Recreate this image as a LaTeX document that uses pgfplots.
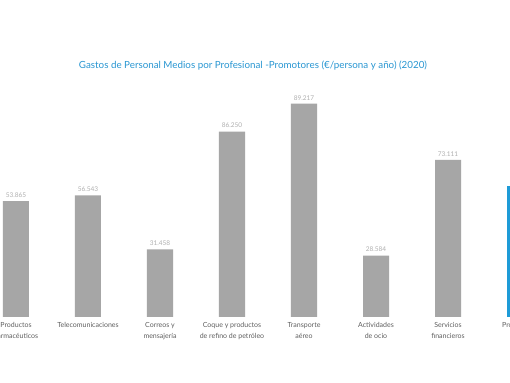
\documentclass[border=0pt]{standalone}
\usepackage{fontspec}
\setmainfont{Lato}
\usepackage{pgfplots}
\pgfplotsset{compat=1.18}
\definecolor{bargray}{RGB}{166,166,166}
\definecolor{barblue}{RGB}{30,155,215}
\definecolor{titleblue}{RGB}{40,150,210}
\definecolor{lblgray}{RGB}{175,175,175}
\definecolor{tickgray}{RGB}{95,95,95}
\begin{document}
\begin{tikzpicture}[x=1pt,y=1pt]
\useasboundingbox (0,0) rectangle (510,382);
\clip (0,0) rectangle (510,382);
\fill[white] (0,0) rectangle (510,382);
\node[font=\fontsize{9.8}{11}\selectfont, text=titleblue] at (253,316) {Gastos de Personal Medios por Profesional -Promotores (€/persona y año) (2020)};
\begin{axis}[
  at={(-56pt,65pt)}, anchor=south west,
  scale only axis, width=648pt, height=215pt,
  xmin=-1, xmax=8, ymin=0, ymax=100000,
  axis line style={draw=none}, ymajorticks=false,
  xtick={0,1,2,3,4,5,6,7}, major tick length=0pt,
  xticklabels={{Productos\\Farmacéuticos},{Telecomunicaciones},{Correos y\\mensajería},{Coque y  productos\\de refino de petróleo},{Transporte\\aéreo},{Actividades\\de ocio},{Servicios\\financieros},{Promotores}},
  xticklabel style={align=center, font=\fontsize{7}{10.5}\selectfont, text=tickgray, anchor=north, yshift=-2pt},
  ybar, bar width=26pt, bar shift=0pt,
  clip=false,
  nodes near coords={\pgfplotspointmeta},
  point meta=explicit symbolic,
  every node near coord/.append style={font=\fontsize{6.5}{7}\selectfont, text=lblgray, yshift=0pt},
]
\addplot[fill=bargray, draw=none, bar shift=0pt] table[meta=lab] {
x y lab
0 53865 53.865
1 56543 56.543
2 31458 31.458
3 86250 86.250
4 99217 89.217
5 28584 28.584
6 73111 73.111
};
\addplot[fill=barblue, draw=none, bar shift=0pt, every node near coord/.append style={text=barblue}] table[meta=lab] {
x y lab
7 61000 61.000
};
\end{axis}
\end{tikzpicture}
\end{document}
